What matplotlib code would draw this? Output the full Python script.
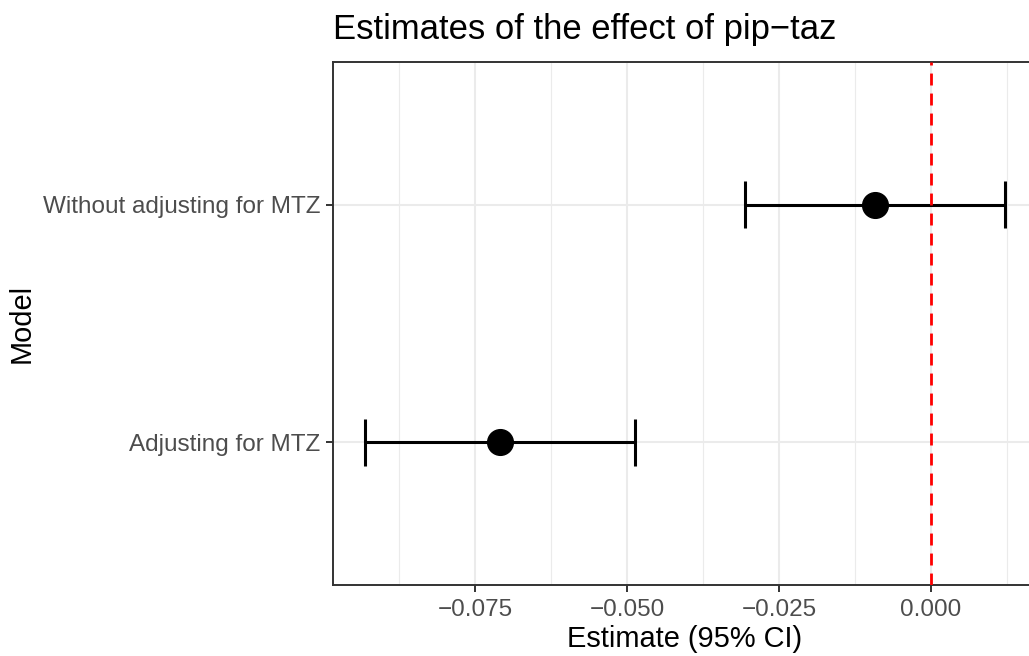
import matplotlib
matplotlib.use("Agg")
import matplotlib.pyplot as plt
from matplotlib.ticker import MultipleLocator

plt.rcParams['font.family'] = ['Liberation Sans', 'DejaVu Sans']

models = ["Adjusting for MTZ", "Without adjusting for MTZ"]
estimates = [-0.0709, -0.0092]
ci_low = [-0.0931, -0.0306]
ci_high = [-0.0487, 0.0122]
xticks = [-0.075, -0.050, -0.025, 0.000]
xtick_labels = ["\u22120.075", "\u22120.050", "\u22120.025", "0.000"]

W, H = 1029, 656
fig = plt.figure(figsize=(W / 100, H / 100), dpi=100)
ax = fig.add_axes([333 / W, 1 - 585 / H, (1037 - 333) / W, (585 - 62) / H])

ypos = list(range(1, len(models) + 1))

# error bars and points
for y, lo, hi, est in zip(ypos, ci_low, ci_high, estimates):
    ax.plot([lo, hi], [y, y], color='black', lw=2.2, solid_capstyle='butt', zorder=3)
    for x in (lo, hi):
        ax.plot([x, x], [y - 0.1, y + 0.1], color='black', lw=2.2, solid_capstyle='butt', zorder=3)
    ax.plot(est, y, 'o', color='black', markersize=18.5, zorder=4)

ax.axvline(0, color='red', lw=2.0, linestyle=(0, (4.3, 2.9)), zorder=5)

# limits like ggplot expansion
lo_all = min(ci_low + [0])
hi_all = max(ci_high + [0])
pad = (hi_all - lo_all) * 0.05
ax.set_xlim(lo_all - pad, hi_all + pad)
ax.set_ylim(0.4, len(models) + 0.6)

ax.set_xticks(xticks)
ax.set_xticklabels(xtick_labels)
ax.xaxis.set_minor_locator(MultipleLocator(0.0125))
ax.set_yticks(ypos)
ax.set_yticklabels(models)

ax.grid(which='major', color='#EBEBEB', lw=1.5, zorder=0)
ax.grid(which='minor', axis='x', color='#EBEBEB', lw=0.8, zorder=0)
ax.set_axisbelow(True)

for s in ax.spines.values():
    s.set_color('#333333')
    s.set_linewidth(1.4)

ax.tick_params(which='major', length=5, width=1.4, color='#333333',
               labelsize=17.5, labelcolor='#4D4D4D', pad=4)
ax.tick_params(which='major', axis='x', pad=5)
ax.tick_params(which='minor', length=0)

ax.set_xlabel("Estimate (95% CI)", fontsize=20.9, labelpad=3)
ax.set_ylabel("Model", fontsize=20.9, labelpad=5)

fig.text(333 / W, 1 - 39 / H, "Estimates of the effect of pip\u2212taz",
         fontsize=24.9, ha='left', va='baseline')

fig.savefig("out.png", dpi=100)
